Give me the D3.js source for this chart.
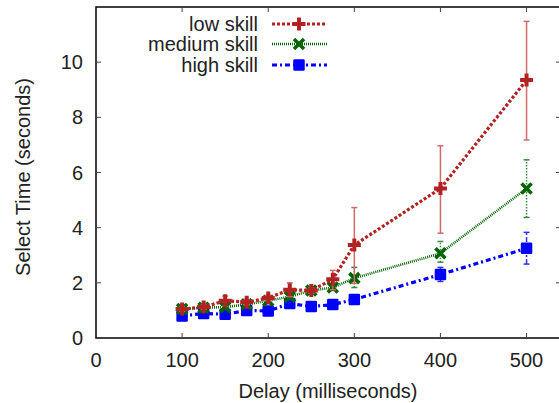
<!DOCTYPE html>
<meta charset="utf-8">
<head>
  <script src="https://d3js.org/d3.v7.min.js"></script>
  <style>
    body { margin: 0; background: #fff; }
    text { font-family: "Liberation Sans", Arial, Helvetica, sans-serif; font-size: 20px; fill: #222; }
  </style>
</head>
<body>
  <div id="my_dataviz"></div>
</body>
<script>
// delay values (ms)
var delays = [100, 125, 150, 175, 200, 225, 250, 275, 300, 400, 500];

// mean select time per skill level (seconds)
var lowSkill    = [1.05, 1.12, 1.35, 1.30, 1.45, 1.75, 1.72, 2.13, 3.37, 5.42, 9.35];
var mediumSkill = [1.05, 1.10, 1.12, 1.22, 1.35, 1.50, 1.72, 1.83, 2.17, 3.07, 5.42];
var highSkill   = [0.80, 0.89, 0.86, 1.00, 0.98, 1.25, 1.14, 1.21, 1.40, 2.30, 3.25];

// error bar bounds
var lowLo  = [0.97, 1.04, 1.15, 1.20, 1.35, 1.50, 1.62, 1.75, 1.98, 3.80, 7.18];
var lowHi  = [1.13, 1.20, 1.52, 1.40, 1.55, 2.00, 1.82, 2.45, 4.73, 6.97, 11.48];
var medLo  = [0.98, 1.03, 1.04, 1.14, 1.27, 1.40, 1.64, 1.72, 1.83, 2.75, 4.37];
var medHi  = [1.12, 1.17, 1.20, 1.30, 1.43, 1.60, 1.80, 1.94, 2.56, 3.50, 6.46];
var highLo = [0.74, 0.83, 0.80, 0.93, 0.92, 1.18, 1.08, 1.15, 1.32, 2.05, 2.68];
var highHi = [0.86, 0.95, 0.92, 1.07, 1.04, 1.32, 1.20, 1.27, 1.48, 2.56, 3.83];

var xTicks = [0, 100, 200, 300, 400, 500];
var yTicks = [0, 2, 4, 6, 8, 10];
var seriesNames = ["low skill", "medium skill", "high skill"];

var W = 559, H = 403;
var plotL = 96, plotR = 561, plotT = 7, plotB = 338;

var svg = d3.select("#my_dataviz").append("svg")
  .attr("width", W).attr("height", H);

var x = d3.scaleLinear().domain([0, 540]).range([plotL, plotR]);
var y = d3.scaleLinear().domain([0, 12]).range([plotB, plotT]);

// border
svg.append("rect")
  .attr("x", plotL).attr("y", plotT)
  .attr("width", plotR - plotL).attr("height", plotB - plotT)
  .attr("fill", "none").attr("stroke", "#111").attr("stroke-width", 1.6);

// ticks (inward, mirrored) and labels
var tl = 5;
xTicks.forEach(function (t) {
  if (t > 0) {
    svg.append("line").attr("x1", x(t)).attr("x2", x(t)).attr("y1", plotB).attr("y2", plotB - tl).attr("stroke", "#444");
    svg.append("line").attr("x1", x(t)).attr("x2", x(t)).attr("y1", plotT).attr("y2", plotT + tl).attr("stroke", "#444");
  }
  svg.append("text").attr("x", x(t)).attr("y", 367).attr("text-anchor", "middle").text(t);
});
yTicks.forEach(function (t) {
  if (t > 0) {
    svg.append("line").attr("x1", plotL).attr("x2", plotL + tl).attr("y1", y(t)).attr("y2", y(t)).attr("stroke", "#444");
    svg.append("line").attr("x1", plotR).attr("x2", plotR - tl).attr("y1", y(t)).attr("y2", y(t)).attr("stroke", "#444");
  }
  svg.append("text").attr("x", 83).attr("y", y(t) + 7).attr("text-anchor", "end").text(t);
});

svg.append("text").attr("x", 328).attr("y", 398).attr("text-anchor", "middle").text("Delay (milliseconds)");
svg.append("text").attr("transform", "translate(30,177)rotate(-90)").attr("text-anchor", "middle").text("Select Time (seconds)");

var series = [
  { name: seriesNames[0], vals: lowSkill, lo: lowLo, hi: lowHi, color: "#b22222", ebColor: "#d26a6a", dash: "3,2", width: 3.2, ebDash: null, marker: "plus" },
  { name: seriesNames[1], vals: mediumSkill, lo: medLo, hi: medHi, color: "#006400", ebColor: "#3c8a3c", dash: "1,1", width: 2.6, ebDash: "1.5,1.5", marker: "cross" },
  { name: seriesNames[2], vals: highSkill, lo: highLo, hi: highHi, color: "#0000ff", ebColor: "#3030ff", dash: "5,3,2,3", width: 3.2, ebDash: "5,2,2,2", marker: "square" }
];

function drawMarker(g, type, cx, cy, color) {
  if (type === "plus") {
    g.append("path").attr("d", "M" + (cx - 6.5) + "," + cy + "h13M" + cx + "," + (cy - 6.5) + "v13")
      .attr("stroke", color).attr("stroke-width", 4).attr("fill", "none");
  } else if (type === "cross") {
    g.append("path").attr("d", "M" + (cx - 5) + "," + (cy - 5) + "l10,10M" + (cx - 5) + "," + (cy + 5) + "l10,-10")
      .attr("stroke", color).attr("stroke-width", 3.6).attr("fill", "none");
  } else {
    g.append("rect").attr("x", cx - 4.5).attr("y", cy - 4.5).attr("width", 9).attr("height", 9)
      .attr("fill", color).attr("stroke", color).attr("stroke-width", 2.5).attr("stroke-linejoin", "round");
  }
}

var line = d3.line().x(function (d) { return x(d[0]); }).y(function (d) { return y(d[1]); });

// draw from high to low so red is on top like the original
series.slice().reverse().forEach(function (s) {
  var g = svg.append("g");
  // error bars
  delays.forEach(function (d, i) {
    g.append("line").attr("x1", x(d)).attr("x2", x(d)).attr("y1", y(s.lo[i])).attr("y2", y(s.hi[i]))
      .attr("stroke", s.ebColor).attr("stroke-width", 1.5).attr("stroke-dasharray", s.ebDash);
    [s.lo[i], s.hi[i]].forEach(function (v) {
      g.append("line").attr("x1", x(d) - 3).attr("x2", x(d) + 3).attr("y1", y(v)).attr("y2", y(v))
        .attr("stroke", s.ebColor).attr("stroke-width", 1.5);
    });
  });
  var pts = delays.map(function (d, i) { return [d, s.vals[i]]; });
  g.append("path").datum(pts).attr("d", line)
    .attr("fill", "none").attr("stroke", s.color).attr("stroke-width", s.width)
    .attr("stroke-dasharray", s.dash);
  pts.forEach(function (p) { drawMarker(g, s.marker, x(p[0]), y(p[1]), s.color); });
});

// legend
var legY = [24, 44, 65];
series.forEach(function (s, i) {
  svg.append("text").attr("x", 258).attr("y", legY[i] + 7).attr("text-anchor", "end").text(s.name);
  svg.append("line").attr("x1", 272).attr("x2", 327).attr("y1", legY[i]).attr("y2", legY[i])
    .attr("stroke", s.color).attr("stroke-width", s.width).attr("stroke-dasharray", s.dash);
  drawMarker(svg, s.marker, 299, legY[i], s.color);
});
</script>
